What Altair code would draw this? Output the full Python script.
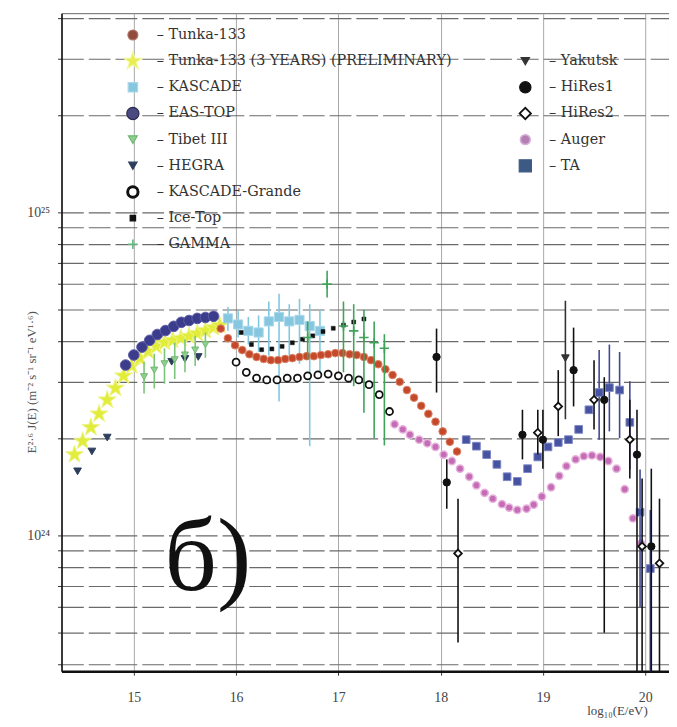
import altair as alt
import pandas as pd

# ---------------- data (log10 E/eV, flux in units of 1e24) ----------------
tunka133_x = [15.85, 15.92, 15.99, 16.06, 16.13, 16.20, 16.27, 16.34, 16.41, 16.48, 16.55, 16.62,
              16.69, 16.76, 16.83, 16.90, 16.97, 17.04, 17.11, 17.18, 17.25, 17.32, 17.39, 17.46,
              17.53, 17.60, 17.67, 17.74, 17.81, 17.88, 17.95, 18.02, 18.09, 18.16]
tunka133_y = [4.37, 4.08, 3.88, 3.75, 3.64, 3.57, 3.52, 3.49, 3.49, 3.52, 3.54, 3.57,
              3.59, 3.59, 3.62, 3.64, 3.67, 3.67, 3.64, 3.62, 3.57, 3.49, 3.39, 3.27,
              3.14, 2.99, 2.82, 2.67, 2.52, 2.38, 2.25, 2.10, 1.95, 1.82]

tunkap_x = [14.42, 14.50, 14.58, 14.66, 14.74, 14.82, 14.90, 14.98, 15.06, 15.14, 15.22, 15.30,
            15.38, 15.46, 15.54, 15.62, 15.70, 15.78, 15.84]
tunkap_y = [1.78, 1.96, 2.16, 2.38, 2.63, 2.86, 3.12, 3.35, 3.54, 3.72, 3.85, 3.96,
            4.02, 4.08, 4.14, 4.22, 4.31, 4.40, 4.47]

kascade_x = [15.92, 16.02, 16.12, 16.22, 16.32, 16.42, 16.52, 16.62, 16.72, 16.82]
kascade_y = [4.70, 4.50, 4.30, 4.25, 4.60, 4.75, 4.60, 4.65, 4.45, 4.30]
kascade_lo = [4.30, 4.10, 3.90, 3.70, 3.60, 2.60, 3.60, 3.40, 1.89, 3.20]
kascade_hi = [5.10, 4.95, 4.75, 4.80, 5.30, 5.60, 5.20, 5.40, 5.20, 5.00]

eastop_x = [14.92, 15.00, 15.08, 15.155, 15.23, 15.31, 15.39, 15.465, 15.54, 15.62, 15.70, 15.78]
eastop_y = [3.37, 3.62, 3.83, 4.02, 4.19, 4.31, 4.44, 4.57, 4.63, 4.70, 4.73, 4.77]

tibet_x = [15.10, 15.20, 15.30, 15.40, 15.50, 15.60, 15.70]
tibet_y = [3.10, 3.25, 3.40, 3.50, 3.62, 3.75, 3.90]
tibet_lo = [2.75, 2.85, 2.95, 3.05, 3.20, 3.35, 3.55]
tibet_hi = [3.45, 3.65, 3.80, 3.95, 4.05, 4.15, 4.25]

hegra_x = [14.45, 14.59, 14.74, 15.37, 15.50, 15.63]
hegra_y = [1.58, 1.82, 2.01, 3.45, 3.52, 3.57]

kg_x = [16.0, 16.1, 16.2, 16.3, 16.4, 16.5, 16.6, 16.7, 16.8, 16.9, 17.0, 17.1, 17.2, 17.3, 17.4, 17.5]
kg_y = [3.44, 3.20, 3.07, 3.03, 3.03, 3.07, 3.07, 3.12, 3.14, 3.16, 3.12, 3.07, 3.03, 2.93, 2.73, 2.42]

icetop_x = [16.05, 16.15, 16.25, 16.35, 16.45, 16.55, 16.65, 16.75, 16.85, 16.95, 17.05, 17.15, 17.25]
icetop_y = [4.25, 3.90, 3.76, 3.78, 3.85, 3.95, 4.05, 4.15, 4.28, 4.38, 4.48, 4.58, 4.68]

gamma_x = [16.70, 16.89, 17.05, 17.15, 17.25, 17.35, 17.45]
gamma_y = [4.10, 6.00, 4.45, 4.30, 4.10, 3.95, 3.80]
gamma_lo = [3.50, 5.45, 3.20, 2.90, 2.40, 2.00, 1.90]
gamma_hi = [4.60, 6.60, 5.30, 5.20, 5.00, 4.60, 4.20]

yakutsk_x = [19.22]
yakutsk_y = [3.54]
yakutsk_lo = [2.29]
yakutsk_hi = [5.33]

hires1_x = [17.96, 18.06, 18.80, 19.00, 19.30, 19.60, 19.92, 20.06]
hires1_y = [3.57, 1.46, 2.05, 1.98, 3.25, 2.63, 1.78, 0.925]
hires1_lo = [2.77, 1.21, 1.72, 1.61, 2.51, 0.50, 0.30, 0.30]
hires1_hi = [4.37, 1.72, 2.45, 2.45, 4.40, 3.09, 2.45, 1.61]

hires2_x = [18.17, 18.95, 19.15, 19.50, 19.85, 19.97, 20.14]
hires2_y = [0.88, 2.08, 2.51, 2.63, 1.98, 0.925, 0.82]
hires2_lo = [0.466, 1.78, 2.03, 2.13, 1.50, 0.30, 0.30]
hires2_hi = [1.30, 2.45, 3.25, 3.49, 2.63, 1.50, 1.30]

auger_x = [17.55, 17.63, 17.70, 17.79, 17.87, 17.95, 18.03, 18.11, 18.19, 18.28, 18.35, 18.43,
           18.51, 18.60, 18.67, 18.75, 18.84, 18.91, 18.99, 19.08, 19.16, 19.23, 19.32, 19.40,
           19.48, 19.56, 19.64, 19.72, 19.80, 19.88, 19.96, 20.04]
auger_y = [2.21, 2.13, 2.05, 1.98, 1.93, 1.88, 1.78, 1.70, 1.61, 1.52, 1.43, 1.355,
           1.30, 1.25, 1.22, 1.20, 1.21, 1.245, 1.32, 1.41, 1.53, 1.64, 1.72, 1.76,
           1.77, 1.75, 1.70, 1.61, 1.39, 1.13, 0.945, 0.79]

ta_x = [18.25, 18.35, 18.45, 18.55, 18.65, 18.75, 18.85, 18.95, 19.05, 19.15, 19.25, 19.35,
        19.45, 19.55, 19.65, 19.75, 19.85, 19.95, 20.05]
ta_y = [1.98, 1.89, 1.78, 1.66, 1.52, 1.47, 1.61, 1.75, 1.88, 1.94, 1.98, 2.13,
        2.45, 2.77, 2.87, 2.82, 2.24, 1.18, 0.79]
ta_err_x = [19.55, 19.65, 19.75, 19.85, 19.95, 20.05]
ta_lo = [1.98, 2.10, 2.00, 1.60, 0.60, 0.30]
ta_hi = [3.75, 3.90, 3.70, 3.00, 1.60, 1.20]

NAMES = ["Tunka-133", "Tunka-133 (3 YEARS) (PRELIMINARY)", "KASCADE", "EAS-TOP", "Tibet III",
         "HEGRA", "KASCADE-Grande", "Ice-Top", "GAMMA",
         "Yakutsk", "HiRes1", "HiRes2", "Auger", "TA"]
LEG_COL = [0, 0, 0, 0, 0, 0, 0, 0, 0, 1, 1, 1, 1, 1]
LEG_ROW = [0, 1, 2, 3, 4, 5, 6, 7, 8, 1, 2, 3, 4, 5]

STAR = "M0,-1L0.2245,-0.309L0.951,-0.309L0.363,0.118L0.588,0.809L0,0.382L-0.588,0.809L-0.363,0.118L-0.951,-0.309L-0.2245,-0.309Z"
PLUS = "M-1,0L1,0M0,-1L0,1"

STYLE = {
    "Tunka-133": dict(shape="circle", fill="#c4492c", stroke="#de8566", sw=1, size=60, lfill="#8e4b3e", lstroke="#b07060", lsize=100),
    "Tunka-133 (3 YEARS) (PRELIMINARY)": dict(shape=STAR, fill="#e2ec3a", stroke="#eef48a", sw=1, size=360, lfill="#e8ee50", lstroke="#f4f6a0", lsize=360),
    "KASCADE": dict(shape="square", fill="#86c6df", stroke="#a8d8ea", sw=1, size=85, lfill="#86c6df", lstroke="#a8d8ea", lsize=90),
    "EAS-TOP": dict(shape="circle", fill="#3c3c8c", stroke="#5c5ca8", sw=1, size=115, lfill="#4a4a80", lstroke="#2a2a50", lsize=150),
    "Tibet III": dict(shape="triangle-down", fill="#8fcf8f", stroke="#6fb86f", sw=1, size=50, lfill="#8fcf8f", lstroke="#6fb86f", lsize=80),
    "HEGRA": dict(shape="triangle-down", fill="#2d3e5c", stroke="#2d3e5c", sw=1, size=60, lfill="#2d3e5c", lstroke="#2d3e5c", lsize=70),
    "KASCADE-Grande": dict(shape="circle", fill="white", stroke="#111111", sw=1.8, size=50, lfill="white", lstroke="#111111", lsize=110),
    "Ice-Top": dict(shape="square", fill="#111111", stroke="#111111", sw=0.5, size=16, lfill="#111111", lstroke="#111111", lsize=30),
    "GAMMA": dict(shape=PLUS, fill=None, stroke="#3fa35a", sw=1.6, size=90, lfill=None, lstroke="#5fb87a", lsize=90),
    "Yakutsk": dict(shape="triangle-down", fill="#333333", stroke="#333333", sw=1, size=60, lfill="#333333", lstroke="#333333", lsize=70),
    "HiRes1": dict(shape="circle", fill="#111111", stroke="#111111", sw=1, size=55, lfill="#111111", lstroke="#111111", lsize=130),
    "HiRes2": dict(shape="diamond", fill="white", stroke="#111111", sw=1.8, size=60, lfill="white", lstroke="#111111", lsize=130),
    "Auger": dict(shape="circle", fill="#c46cb6", stroke="#e7b3dd", sw=1.5, size=55, lfill="#b47fb4", lstroke="#d8b0d8", lsize=100),
    "TA": dict(shape="square", fill="#4653a0", stroke="#7d86c4", sw=1, size=60, lfill="#3d5a84", lstroke="#3d5a84", lsize=150),
}

SERIES = {
    "Tunka-133 (3 YEARS) (PRELIMINARY)": (tunkap_x, tunkap_y),
    "HEGRA": (hegra_x, hegra_y),
    "EAS-TOP": (eastop_x, eastop_y),
    "Tibet III": (tibet_x, tibet_y),
    "KASCADE": (kascade_x, kascade_y),
    "Tunka-133": (tunka133_x, tunka133_y),
    "KASCADE-Grande": (kg_x, kg_y),
    "Ice-Top": (icetop_x, icetop_y),
    "GAMMA": (gamma_x, gamma_y),
    "Auger": (auger_x, auger_y),
    "TA": (ta_x, ta_y),
    "HiRes1": (hires1_x, hires1_y),
    "HiRes2": (hires2_x, hires2_y),
    "Yakutsk": (yakutsk_x, yakutsk_y),
}

ERRORS = {
    "Tibet III": (tibet_x, tibet_lo, tibet_hi, "#7cc47c"),
    "KASCADE": (kascade_x, kascade_lo, kascade_hi, "#7fc8e0"),
    "GAMMA": (gamma_x, gamma_lo, gamma_hi, "#3fa35a"),
    "TA": (ta_err_x, ta_lo, ta_hi, "#3f4a90"),
    "HiRes1": (hires1_x, hires1_lo, hires1_hi, "#111111"),
    "HiRes2": (hires2_x, hires2_lo, hires2_hi, "#111111"),
    "Yakutsk": (yakutsk_x, yakutsk_lo, yakutsk_hi, "#333333"),
}

# ---------------- chart ----------------
W, H = 613, 664
FONT = "Liberation Serif"
LFONT = "DejaVu Serif"

xscale = alt.Scale(domain=[14.293, 20.233], nice=False, zero=False)
yscale = alt.Scale(type="log", domain=[0.380, 41.4], nice=False)

ygrid_vals = [0.4, 0.5, 0.6, 0.7, 0.8, 0.9, 1, 2, 3, 4, 5, 6, 7, 8, 9, 10, 20, 30, 40]

xaxis = alt.Axis(values=[15, 16, 17, 18, 19, 20], format="d", grid=True, gridColor="#a8a8a8",
                 gridWidth=1, title="log₁₀(E/eV)", titleFont=FONT, titleFontSize=13,
                 titleFontWeight="normal", titleColor="#444", titleAnchor="start", titleAlign="left",
                 titleX=530, titleY=34, labelFont=FONT, labelFontSize=14, labelColor="#444",
                 labelPadding=16, tickSize=4, tickColor="#333", domainColor="#111", domainWidth=2.5)
yaxis = alt.Axis(values=ygrid_vals, grid=True, gridColor="#6a6a6a", gridWidth=1.2, gridDash=[22, 5],
                 labelExpr="datum.value == 1 ? '10²⁴' : (datum.value == 10 ? '10²⁵' : '')",
                 labelFont=FONT, labelFontSize=14, labelColor="#444", labelPadding=8,
                 tickSize=4, tickColor="#333", domainColor="#111", domainWidth=1.5,
                 title="E²·⁶ J(E) (m⁻² s⁻¹ sr⁻¹ eV¹·⁶)", titleFont=FONT, titleFontSize=13,
                 titleFontWeight="normal", titleColor="#555", titleX=-30, titleY=372,
                 titleAngle=270, titleBaseline="middle", titleAnchor="middle")

layers = []
for name, (xs, ys) in SERIES.items():
    st = STYLE[name]
    if name in ERRORS:
        ex, lo, hi, col = ERRORS[name]
        edf = pd.DataFrame({"logE": ex, "lo": lo, "hi": hi})
        layers.append(alt.Chart(edf).mark_rule(color=col, strokeWidth=1.6, clip=True).encode(
            x=alt.X("logE:Q", scale=xscale, axis=xaxis),
            y=alt.Y("lo:Q", scale=yscale, axis=yaxis),
            y2="hi:Q"))
    df = pd.DataFrame({"logE": xs, "flux": ys})
    kw = dict(shape=st["shape"], stroke=st["stroke"], strokeWidth=st["sw"], size=st["size"],
              opacity=1, clip=True)
    if st["fill"] is not None:
        kw.update(fill=st["fill"], fillOpacity=1, filled=True)
    else:
        kw.update(filled=False)
    layers.append(alt.Chart(df).mark_point(**kw).encode(
        x=alt.X("logE:Q", scale=xscale, axis=xaxis),
        y=alt.Y("flux:Q", scale=yscale, axis=yaxis)))

# legend (manual, two columns inside the plot)
for name, col, row in zip(NAMES, LEG_COL, LEG_ROW):
    st = STYLE[name]
    mx = 72 if col == 0 else 468
    my = 22 + 26.4 * row
    ldf = pd.DataFrame({"label": ["– " + name]})
    kw = dict(shape=st["shape"], stroke=st["lstroke"],
              strokeWidth=3 if name == "KASCADE-Grande" else max(st["sw"], 1.2),
              size=st["lsize"], opacity=1)
    if st["lfill"] is not None:
        kw.update(fill=st["lfill"], fillOpacity=1, filled=True)
    else:
        kw.update(filled=False)
    layers.append(alt.Chart(ldf).mark_point(**kw).encode(x=alt.value(mx), y=alt.value(my)))
    layers.append(alt.Chart(ldf).mark_text(font=LFONT, fontSize=14.5, color="#333", align="left",
                                           baseline="middle").encode(
        x=alt.value(mx + 24), y=alt.value(my), text="label:N"))

# panel label
layers.append(alt.Chart(pd.DataFrame({"t": ["б)"]})).mark_text(
    font=FONT, fontSize=104, color="#111", align="left", baseline="alphabetic").encode(
    x=alt.value(104), y=alt.value(582), text="t:N"))

chart = alt.layer(*layers).properties(
    width=W, height=H,
    autosize=alt.AutoSizeParams(type="none"),
    padding={"left": 54, "top": 2, "right": 0, "bottom": 45},
    background="white",
).configure_view(stroke="#666", strokeWidth=1)

chart.save("out.html", embed_options={"renderer": "svg", "actions": False})
